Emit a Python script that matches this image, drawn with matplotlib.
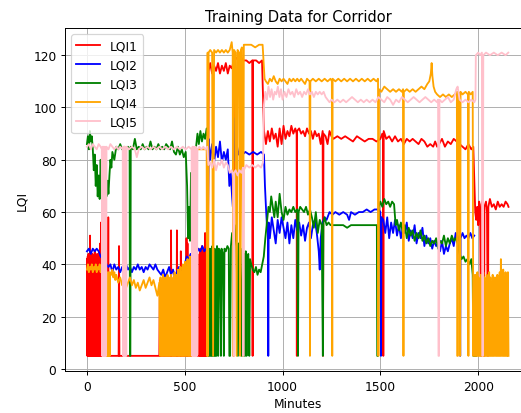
import matplotlib.pyplot as plt

# (minute, LQI) samples per node, read in time order
lqi1 = [
    (0, 42), (2, 5), (4, 43), (6, 5), (8, 44), (10, 5), (12, 42), (14, 5), (16, 51), (18, 5),
    (20, 43), (22, 5), (24, 42), (26, 5), (28, 44), (30, 5), (32, 43), (34, 5), (36, 42), (38, 5),
    (40, 45), (42, 5), (44, 43), (46, 5), (48, 42), (50, 5), (52, 44), (54, 5), (56, 43), (58, 5),
    (60, 42), (62, 5), (64, 45), (66, 5), (68, 48), (70, 5), (72, 56), (74, 5), (76, 43), (78, 5),
    (107, 5), (109, 58), (111, 5), (162, 5), (164, 47), (166, 5), (184, 5), (186, 36), (188, 5),
    (370, 5), (373, 34), (375, 5), (377, 30), (379, 5), (428, 5), (430, 53), (432, 5),
    (458, 5), (460, 53), (462, 5), (478, 5), (480, 45), (482, 5), (507, 5), (509, 50), (511, 5),
    (514, 48), (516, 5), (574, 5), (576, 44), (578, 5), (580, 46), (582, 5), (584, 43), (586, 5),
    (588, 47), (590, 5), (592, 44), (594, 5), (596, 46), (598, 5), (600, 43), (602, 5), (604, 52),
    (606, 5), (608, 45), (610, 5), (612, 44), (614, 5), (616, 46), (618, 5),
    (622, 114), (630, 117), (640, 113), (650, 116), (660, 114), (670, 117), (680, 113), (690, 116),
    (700, 114), (710, 117), (720, 113), (730, 116), (740, 115), (748, 117), (750, 5), (752, 118),
    (765, 119), (780, 117), (790, 119), (800, 118), (815, 118), (830, 117), (845, 118), (847, 5),
    (849, 118), (865, 118), (880, 117), (895, 118), (905, 91), (915, 86), (925, 91), (935, 87),
    (945, 92), (955, 88), (965, 90), (975, 85), (985, 92), (995, 86), (1005, 93), (1015, 88),
    (1025, 91), (1035, 89), (1045, 93), (1055, 90), (1065, 92), (1072, 90), (1073, 5), (1074, 91),
    (1085, 92), (1095, 90), (1105, 91), (1115, 89), (1125, 92), (1135, 90), (1145, 91), (1155, 88),
    (1165, 91), (1175, 89), (1185, 90), (1195, 86), (1205, 91), (1207, 5), (1209, 90), (1220, 89),
    (1230, 86), (1240, 91), (1250, 89), (1260, 88), (1280, 89), (1300, 88), (1320, 89), (1340, 88),
    (1360, 87), (1380, 89), (1400, 88), (1420, 87), (1440, 88), (1460, 88), (1480, 87), (1500, 88),
    (1510, 90), (1514, 88), (1515, 5), (1517, 91), (1530, 88), (1545, 89), (1560, 87), (1575, 89),
    (1590, 87), (1605, 88), (1620, 86), (1635, 88), (1650, 87), (1665, 88), (1680, 87), (1695, 86),
    (1710, 88), (1725, 87), (1740, 85), (1755, 86), (1770, 85), (1780, 87), (1790, 85), (1800, 86),
    (1815, 88), (1830, 85), (1845, 87), (1860, 86), (1875, 88), (1890, 87), (1905, 86), (1920, 85),
    (1935, 84), (1950, 86), (1965, 84), (1975, 85), (1985, 60), (1990, 57), (1995, 62), (2000, 55),
    (2005, 64), (2010, 60), (2015, 5), (2017, 63), (2025, 65), (2030, 5), (2032, 62), (2040, 64),
    (2045, 60), (2050, 5), (2052, 62), (2060, 65), (2070, 62), (2080, 63), (2090, 61), (2100, 64),
    (2110, 62), (2120, 63), (2130, 62), (2140, 64), (2150, 63), (2155, 62),
]

lqi2 = [
    (0, 45), (10, 46), (20, 44), (30, 46), (40, 45), (50, 46), (60, 45), (70, 43), (80, 42),
    (90, 41), (100, 40), (110, 39), (120, 40), (130, 37), (140, 40), (150, 38), (160, 39), (170, 37),
    (180, 39), (190, 38), (200, 40), (210, 38), (220, 39), (230, 37), (240, 39), (250, 38), (260, 40),
    (270, 38), (280, 39), (290, 37), (300, 39), (310, 38), (320, 40), (330, 39), (340, 38), (350, 40),
    (360, 38), (370, 37), (380, 36), (390, 38), (400, 35), (410, 37), (420, 39), (430, 36), (440, 38),
    (450, 35), (460, 37), (470, 39), (480, 36), (490, 38), (500, 40), (510, 43), (520, 42), (530, 44),
    (540, 43), (550, 45), (560, 44), (570, 46), (580, 45), (590, 47), (600, 45), (610, 46), (618, 47),
    (622, 88), (630, 80), (640, 86), (650, 79), (660, 85), (670, 81), (680, 87), (690, 79), (700, 83),
    (710, 80), (720, 84), (728, 70), (735, 75), (742, 66), (746, 62), (750, 96), (754, 80),
    (765, 86), (775, 82), (785, 84), (795, 82), (810, 83), (830, 82), (850, 83), (870, 82), (890, 83),
    (905, 82), (910, 70), (915, 62), (920, 55), (925, 52), (927, 5), (929, 56), (935, 50), (945, 58),
    (955, 53), (965, 48), (975, 57), (985, 52), (995, 58), (1005, 54), (1015, 50), (1025, 56),
    (1035, 48), (1045, 55), (1055, 50), (1065, 57), (1075, 53), (1085, 56), (1095, 51), (1105, 55),
    (1115, 49), (1125, 54), (1135, 56), (1145, 50), (1155, 55), (1165, 57), (1175, 52), (1185, 45),
    (1190, 38), (1195, 50), (1205, 56), (1215, 58), (1225, 57), (1240, 60), (1255, 59), (1270, 60),
    (1290, 59), (1310, 60), (1330, 59), (1340, 57), (1350, 60), (1370, 59), (1390, 60), (1410, 60),
    (1430, 61), (1450, 60), (1470, 61), (1490, 61), (1500, 60), (1503, 5), (1506, 58), (1515, 57),
    (1525, 52), (1535, 58), (1545, 50), (1555, 56), (1565, 52), (1575, 57), (1585, 51), (1595, 55),
    (1605, 50), (1615, 54), (1625, 52), (1635, 56), (1645, 49), (1655, 53), (1665, 50), (1675, 55),
    (1685, 48), (1695, 52), (1705, 50), (1715, 54), (1725, 47), (1735, 51), (1745, 48), (1755, 50),
    (1765, 46), (1775, 49), (1785, 47), (1795, 48), (1805, 45), (1815, 49), (1825, 44), (1835, 47),
    (1845, 45), (1855, 48), (1865, 50), (1875, 47), (1885, 52), (1895, 49), (1905, 51), (1908, 5),
    (1910, 50), (1920, 52), (1930, 50), (1940, 51), (1950, 50), (1960, 52), (1970, 50), (1980, 51),
]

lqi3 = [
    (0, 86), (5, 89), (10, 84), (15, 91), (20, 87), (25, 89), (30, 84), (35, 76), (40, 82), (45, 70),
    (50, 78), (55, 66), (60, 74), (65, 65), (70, 80), (75, 68), (80, 72), (85, 84), (90, 70), (95, 76),
    (100, 66), (105, 72), (110, 67), (115, 74), (120, 80), (125, 77), (130, 83), (140, 80), (150, 85),
    (160, 84), (170, 86), (180, 84), (190, 85), (200, 84), (210, 85), (218, 84), (220, 5), (222, 5),
    (224, 85), (235, 84), (245, 88), (255, 84), (265, 85), (275, 84), (285, 86), (295, 84), (305, 85),
    (315, 84), (325, 87), (335, 84), (345, 85), (355, 84), (365, 86), (375, 84), (385, 85), (395, 84),
    (405, 86), (415, 85), (425, 84), (435, 87), (445, 83), (455, 82), (465, 85), (475, 82), (485, 84),
    (495, 81), (505, 83), (512, 70), (517, 50), (522, 62), (527, 49), (532, 75), (538, 72), (545, 80),
    (552, 76), (558, 85), (565, 90), (572, 86), (580, 91), (588, 87), (596, 90), (604, 88), (612, 92),
    (617, 89), (620, 5), (623, 44), (626, 5), (629, 46), (632, 5), (635, 45), (638, 5), (641, 47),
    (644, 5), (647, 44), (650, 5), (653, 46), (656, 5), (659, 45), (662, 5), (665, 47), (668, 44),
    (671, 5), (674, 46), (680, 45), (685, 5), (688, 46), (695, 44), (700, 5), (703, 46), (710, 45),
    (718, 47), (725, 46), (728, 5), (732, 5), (736, 47), (742, 52), (748, 49), (755, 55), (760, 50),
    (765, 47), (772, 5), (776, 48), (782, 45), (790, 5), (795, 46), (800, 5), (804, 44), (808, 5),
    (812, 45), (816, 5), (820, 43), (825, 44), (830, 5), (834, 42), (840, 40), (848, 38), (856, 37),
    (864, 39), (872, 36), (880, 38), (888, 37), (896, 40), (904, 43), (912, 50), (920, 56), (928, 62),
    (935, 60), (942, 66), (950, 62), (958, 58), (965, 64), (975, 58), (985, 67), (995, 60), (1005, 57),
    (1015, 62), (1025, 59), (1035, 61), (1045, 60), (1055, 62), (1065, 60), (1075, 61), (1079, 5),
    (1082, 60), (1090, 62), (1100, 61), (1110, 60), (1120, 62), (1130, 59), (1140, 61), (1150, 58),
    (1160, 54), (1170, 60), (1180, 52), (1190, 57), (1200, 55), (1206, 5), (1209, 56), (1215, 58),
    (1225, 55), (1235, 56), (1245, 55), (1255, 55), (1270, 55), (1290, 55), (1310, 55), (1330, 54),
    (1350, 55), (1370, 55), (1390, 55), (1410, 55), (1430, 55), (1450, 55), (1470, 55), (1482, 55),
    (1484, 5), (1488, 5), (1492, 62), (1500, 64), (1510, 62), (1520, 65), (1530, 63), (1540, 64),
    (1550, 62), (1560, 64), (1570, 63), (1578, 55), (1585, 57), (1595, 53), (1605, 56), (1615, 52),
    (1625, 55), (1635, 50), (1645, 54), (1655, 51), (1665, 53), (1675, 49), (1685, 52), (1695, 50),
    (1705, 53), (1715, 49), (1725, 51), (1735, 48), (1745, 50), (1755, 47), (1765, 49), (1775, 48),
    (1785, 50), (1795, 46), (1805, 49), (1815, 48), (1825, 51), (1835, 47), (1845, 50), (1855, 48),
    (1865, 51), (1875, 49), (1885, 50), (1895, 48), (1905, 44), (1915, 42), (1925, 43), (1935, 41),
    (1945, 42), (1955, 40), (1965, 42), (1972, 36), (1975, 5), (1990, 5),
]

lqi4 = [
    (0, 38), (5, 40), (10, 37), (15, 39), (20, 38), (25, 40), (30, 37), (35, 39), (40, 38), (45, 40),
    (50, 37), (55, 39), (60, 38), (65, 40), (70, 37), (75, 39), (80, 38), (85, 37), (90, 38), (95, 36),
    (100, 5), (102, 37), (104, 5), (106, 36), (108, 5), (110, 37), (112, 5), (114, 36), (116, 5),
    (118, 37), (125, 36), (130, 38), (135, 35), (140, 37), (145, 34), (150, 36), (160, 33), (170, 35),
    (180, 32), (190, 34), (200, 31), (210, 33), (220, 35), (230, 32), (240, 34), (250, 31), (260, 33),
    (270, 30), (280, 32), (290, 34), (300, 31), (310, 33), (320, 35), (330, 32), (340, 34), (350, 31),
    (360, 28), (370, 33), (373, 5), (376, 35), (379, 5), (382, 34), (385, 5), (388, 36), (391, 5),
    (394, 33), (397, 5), (400, 35), (403, 5), (406, 34), (409, 5), (412, 36), (415, 5), (418, 35),
    (421, 5), (424, 33), (427, 5), (430, 36), (433, 5), (436, 34), (439, 5), (442, 35), (445, 5),
    (448, 37), (451, 5), (454, 35), (457, 5), (460, 36), (463, 5), (466, 38), (469, 5), (472, 36),
    (475, 5), (478, 39), (481, 5), (484, 37), (487, 5), (490, 40), (493, 5), (496, 38), (499, 5),
    (502, 41), (505, 5), (508, 39), (511, 5), (514, 42), (517, 5), (520, 40), (523, 5), (526, 43),
    (529, 5), (532, 41), (535, 5), (548, 5), (551, 84), (570, 84), (590, 84), (612, 84), (614, 5),
    (617, 121), (619, 5), (622, 121), (630, 122), (640, 121), (645, 5), (650, 122), (660, 121),
    (670, 122), (680, 121), (690, 122), (700, 121), (710, 122), (720, 121), (730, 122), (740, 125),
    (745, 121), (748, 5), (752, 122), (760, 121), (765, 5), (770, 122), (778, 121), (783, 5),
    (787, 122), (792, 123), (798, 5), (802, 124), (820, 124), (840, 124), (860, 123), (880, 124),
    (898, 124), (908, 111), (915, 110), (925, 109), (935, 111), (945, 110), (955, 112), (965, 110),
    (975, 109), (985, 111), (995, 110), (1005, 111), (1015, 110), (1025, 109), (1035, 111), (1045, 110),
    (1055, 111), (1065, 110), (1075, 111), (1085, 110), (1095, 111), (1105, 110), (1115, 109),
    (1125, 111), (1138, 110), (1140, 5), (1142, 110), (1155, 111), (1170, 110), (1185, 111),
    (1200, 110), (1215, 111), (1230, 110), (1245, 111), (1252, 110), (1254, 5), (1256, 111),
    (1270, 110), (1285, 111), (1300, 110), (1315, 111), (1330, 110), (1345, 111), (1360, 110),
    (1375, 111), (1390, 110), (1405, 111), (1420, 110), (1435, 111), (1450, 110), (1465, 111),
    (1480, 110), (1488, 111), (1490, 5), (1493, 107), (1505, 106), (1520, 108), (1535, 107),
    (1550, 106), (1565, 107), (1580, 106), (1595, 107), (1610, 106), (1616, 107), (1618, 5),
    (1620, 106), (1635, 107), (1650, 106), (1665, 107), (1680, 106), (1695, 107), (1710, 108),
    (1725, 107), (1740, 109), (1750, 110), (1758, 113), (1762, 117), (1766, 112), (1772, 108),
    (1780, 106), (1790, 105), (1805, 104), (1820, 105), (1835, 104), (1850, 105), (1865, 104),
    (1880, 105), (1891, 106), (1893, 5), (1896, 5), (1898, 106), (1906, 105), (1908, 5), (1910, 106),
    (1920, 105), (1935, 106), (1948, 105), (1950, 5), (1952, 106), (1962, 105), (1972, 106),
    (1975, 5), (1978, 35), (1981, 5), (1984, 36), (1987, 5), (1990, 34), (1993, 5), (1996, 37),
    (1999, 5), (2002, 35), (2005, 5), (2008, 33), (2011, 5), (2014, 36), (2017, 5), (2020, 34),
    (2023, 5), (2026, 37), (2029, 5), (2032, 35), (2035, 5), (2038, 33), (2041, 5), (2044, 36),
    (2047, 5), (2050, 34), (2053, 5), (2056, 37), (2059, 5), (2062, 35), (2065, 5), (2068, 33),
    (2071, 5), (2074, 36), (2077, 5), (2080, 34), (2083, 5), (2086, 35), (2089, 5), (2092, 33),
    (2095, 5), (2098, 36), (2101, 5), (2104, 34), (2107, 5), (2110, 37), (2113, 5), (2116, 42),
    (2119, 5), (2122, 36), (2125, 5), (2128, 38), (2131, 5), (2134, 35), (2137, 5), (2140, 37),
    (2143, 5), (2146, 36), (2149, 5), (2152, 37), (2155, 5),
]

lqi5 = [
    (0, 85), (10, 86), (20, 84), (30, 86), (40, 85), (50, 84), (60, 86), (70, 85), (76, 84),
    (78, 5), (80, 85), (82, 5), (84, 85), (86, 5), (88, 84), (90, 5), (92, 85), (94, 5), (96, 84),
    (98, 5), (100, 85), (110, 84), (120, 86), (130, 85), (140, 84), (150, 85), (160, 84), (170, 85),
    (183, 84), (185, 5), (187, 85), (189, 5), (191, 84), (193, 5), (195, 85), (197, 5), (199, 84),
    (201, 5), (203, 85), (215, 84), (230, 85), (245, 84), (255, 81), (265, 84), (280, 85), (295, 84),
    (310, 85), (325, 84), (340, 85), (355, 84), (370, 85), (385, 84), (400, 85), (415, 84), (430, 85),
    (445, 84), (460, 85), (475, 84), (490, 85), (505, 84), (520, 85), (535, 84), (538, 5), (540, 85),
    (542, 5), (544, 84), (546, 5), (548, 85), (550, 5), (552, 84), (554, 5), (556, 85), (558, 5),
    (560, 84), (562, 5), (565, 84), (575, 85), (585, 84), (595, 85), (605, 84), (615, 85), (621, 78),
    (630, 79), (640, 77), (650, 80), (660, 76), (670, 79), (680, 78), (690, 80), (700, 77), (710, 79),
    (720, 78), (730, 75), (740, 76), (748, 74), (750, 5), (752, 75), (760, 76), (770, 74), (780, 76),
    (790, 75), (798, 77), (800, 5), (802, 76), (815, 78), (830, 77), (845, 78), (860, 77), (875, 78),
    (890, 77), (900, 79), (905, 101), (912, 106), (920, 103), (928, 108), (936, 104), (944, 107),
    (952, 103), (960, 106), (968, 105), (976, 108), (984, 104), (992, 107), (1000, 103), (1010, 106),
    (1020, 104), (1030, 107), (1040, 105), (1050, 106), (1060, 104), (1070, 107), (1080, 105),
    (1090, 106), (1100, 104), (1110, 106), (1120, 105), (1130, 107), (1140, 105), (1150, 106),
    (1160, 104), (1170, 106), (1180, 105), (1190, 106), (1200, 105), (1210, 106), (1220, 104),
    (1230, 103), (1240, 102), (1250, 103), (1265, 102), (1280, 103), (1295, 102), (1310, 103),
    (1325, 102), (1340, 103), (1355, 104), (1370, 103), (1385, 102), (1400, 103), (1415, 102),
    (1430, 103), (1445, 102), (1460, 103), (1475, 102), (1490, 104), (1505, 103), (1520, 102),
    (1535, 104), (1550, 103), (1565, 101), (1580, 103), (1595, 102), (1610, 104), (1625, 103),
    (1640, 102), (1655, 103), (1670, 104), (1685, 103), (1700, 102), (1715, 103), (1730, 104),
    (1745, 103), (1760, 102), (1775, 103), (1790, 102), (1795, 103), (1797, 5), (1800, 5),
    (1802, 103), (1815, 102), (1830, 103), (1845, 104), (1860, 102), (1875, 103), (1888, 107),
    (1895, 108), (1905, 103), (1920, 102), (1935, 103), (1950, 102), (1965, 103), (1980, 102),
    (1986, 103), (1988, 120), (2000, 121), (2010, 120), (2019, 121), (2021, 5), (2024, 5),
    (2026, 120), (2040, 121), (2060, 120), (2080, 121), (2100, 120), (2120, 121), (2140, 120),
    (2154, 121),
]

names = ["LQI1", "LQI2", "LQI3", "LQI4", "LQI5"]
colors = ["red", "blue", "green", "orange", "pink"]

fig = plt.figure(figsize=(521 / 88, 414 / 88), dpi=88)
ax = fig.add_axes([0.1248, 0.1014, 0.8944, 0.8285])

for series, name, color in zip([lqi1, lqi2, lqi3, lqi4, lqi5], names, colors):
    minutes, values = zip(*series)
    ax.plot(minutes, values, color=color, label=name)

ax.set_xlim(-112, 2270)
ax.set_ylim(-0.8, 130.4)
ax.set_title("Training Data for Corridor")
ax.set_xlabel("Minutes")
ax.set_ylabel("LQI")
ax.grid(True)
ax.legend(loc="upper left")

fig.savefig("out.png", dpi=88)
